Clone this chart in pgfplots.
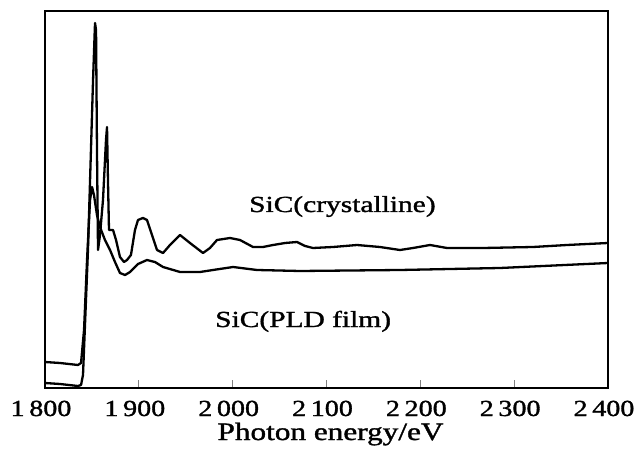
\documentclass[border=0pt]{standalone}
\usepackage{graphicx}
\usepackage{fontspec}
\setmainfont{Liberation Serif}[FakeBold=1.2]
\usepackage{pgfplots}
\pgfplotsset{compat=1.18}
\newcommand{\wide}[1]{\scalebox{1.28}[1]{#1}}
\newcommand{\widet}[1]{\scalebox{1.22}[1]{#1}}
\begin{document}
\begin{tikzpicture}
\begin{axis}[
  scale only axis, width=563bp, height=377bp,
  xmin=1800, xmax=2400, ymin=0, ymax=377,
  axis line style={line width=1.5bp},
  xtick={1800,1900,2000,2100,2200,2300,2400},
  xticklabels={\widet{1\,800},\widet{1\,900},\widet{2\,000},\widet{2\,100},\widet{2\,200},\widet{2\,300},\widet{2\,400}},
  xtick pos=bottom, tick align=inside, major tick length=8bp,
  xtick style={line width=1.2bp},
  ytick=\empty,
  xticklabel style={font=\fontsize{23bp}{26bp}\selectfont, anchor=base, yshift=-28bp, xshift=-4bp},
  xlabel={\scalebox{1.25}[1]{Photon energy/eV}},
  xlabel style={font=\fontsize{25bp}{28bp}\selectfont, anchor=base, at={(axis description cs:0.5,0)}, yshift=-52bp, xshift=4bp},
]
\addplot[black, no marks, line width=2.3bp, line join=round] coordinates {
(1800,5)(1816,4)(1835.2,2)(1838.4,3)(1840.5,13)(1845.8,138)(1851.2,308)(1853.3,365)
(1854.4,358)(1855.4,238)(1856.5,138)(1858.6,153)(1861.8,188)(1865.0,248)(1866.1,261)
(1867.1,208)(1868.2,158)(1872.5,158)(1875.7,148)(1879.9,131)(1884.2,126)(1887.4,128)
(1891.6,133)(1895.9,158)(1899.1,168)(1904.4,170)(1908.7,168)(1914.0,153)(1919.4,138)
(1925.8,135)(1933.2,143)(1943.9,153)(1954.5,145)(1968.4,135)(1975.8,140)(1983.3,148)
(1997.2,150)(2007.8,148)(2021.7,141)(2032.3,141)(2043.0,143)(2055.8,145)(2068.6,146)
(2077.1,142)(2085.6,140)(2106.9,141)(2132.5,143)(2157.0,141)(2178.3,138)(2192.2,140)
(2210.3,143)(2228.4,140)(2266.8,140)(2320.1,141)(2356.3,143)(2400,145)
};
\addplot[black, no marks, line width=2.3bp, line join=round] coordinates {
(1800,26)(1816,25)(1835.2,23)(1838.4,25)(1841.6,58)(1844.8,128)(1848.0,188)(1850.1,201)
(1852.2,193)(1855.4,173)(1858.6,161)(1863.9,148)(1869.3,138)(1874.6,126)(1879.9,115)
(1885.3,113)(1890.6,116)(1899.1,124)(1908.7,128)(1917.2,126)(1925.8,121)(1943.9,116)
(1965.2,116)(1979.0,118)(2000.4,121)(2025.9,118)(2071.8,117)(2178.3,118)(2284.9,120)(2400,125)
};
\node[anchor=base west, inner sep=0pt, font=\fontsize{23bp}{26bp}\selectfont] at (axis cs:2017.4,176) {\wide{SiC(crystalline)}};
\node[anchor=base west, inner sep=0pt, font=\fontsize{23bp}{26bp}\selectfont] at (axis cs:1981.2,61) {\wide{SiC(PLD film)}};
\end{axis}
\pgfresetboundingbox
\path ([shift={(-45bp,-67bp)}]current axis.south west) rectangle ([shift={(27bp,11bp)}]current axis.north east);
\end{tikzpicture}
\end{document}
